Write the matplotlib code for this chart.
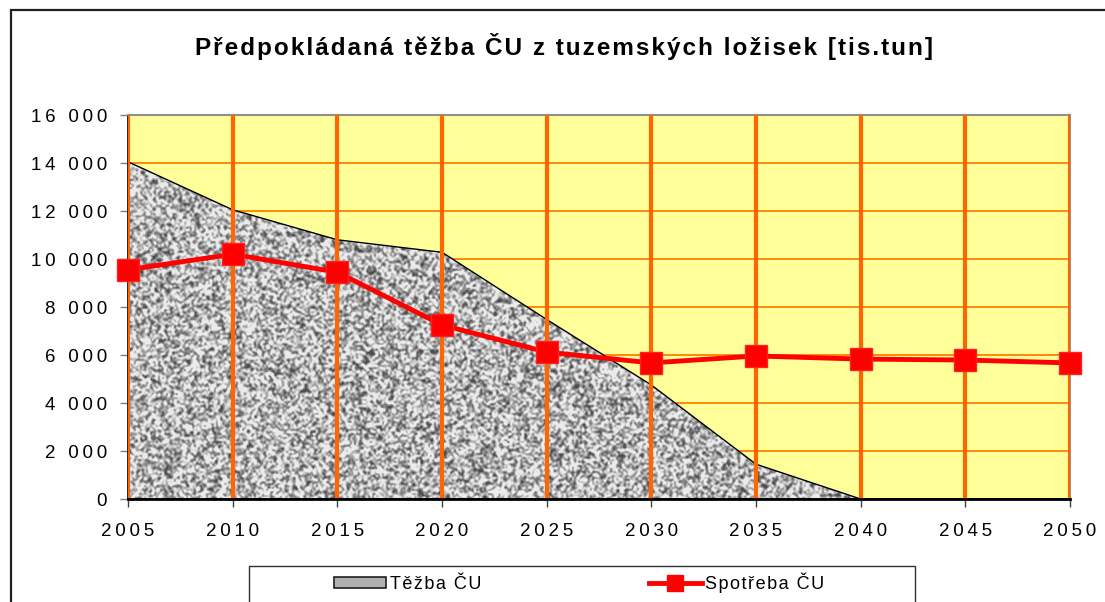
import numpy as np
import matplotlib.pyplot as plt
from matplotlib.patches import Rectangle, Patch
from matplotlib.lines import Line2D

plt.rcParams['font.family'] = ['Liberation Sans', 'DejaVu Sans']

# data
years = [2005, 2010, 2015, 2020, 2025, 2030, 2035, 2040, 2045, 2050]
tezba = [14050, 12050, 10800, 10280, 7480, 4750, 1450, 0, 0, 0]
spotreba = [9550, 10200, 9450, 7250, 6120, 5670, 5960, 5830, 5790, 5670]
y_ticks = [0, 2000, 4000, 6000, 8000, 10000, 12000, 14000, 16000]
y_labels = ["0", "2 000", "4 000", "6 000", "8 000", "10 000", "12 000", "14 000", "16 000"]
x_labels = [str(y) for y in years]
series_names = ["Těžba ČU", "Spotřeba ČU"]
title = "Předpokládaná těžba ČU z tuzemských ložisek [tis.tun]"

THIN = '\u2009'
HAIR = '\u200a'


def spaced(s, sep):
    # old Excel output uses wide letter spacing
    return sep.join(s)


W, H = 1105, 602
fig = plt.figure(figsize=(W / 100, H / 100), dpi=100)
ax = fig.add_axes([128 / W, 1 - 499 / H, (1070 - 128) / W, (499 - 115) / H])
ax.set_facecolor('#FFFF99')
ax.set_xlim(2005, 2050)
ax.set_ylim(0, 16000)

# horizontal grid behind the area
for yv in y_ticks[1:]:
    ax.axhline(yv, color='#FF7F00', lw=1.3, zorder=0.5)

# granite-like texture for the area fill (style only, not data)
rng = np.random.default_rng(7)
noise = rng.random((192, 471))
noise = np.kron(noise, np.ones((2, 2)))
pad = np.pad(noise, 1, mode='wrap')
sm = np.zeros_like(noise)
for dy in range(-1, 2):
    for dx in range(-1, 2):
        sm += pad[1 + dy:1 + dy + noise.shape[0], 1 + dx:1 + dx + noise.shape[1]]
sm /= 9
tex = 0.71 + (sm - sm.mean()) * 1.1
tex = np.clip(tex, 0.3, 0.92)
poly = ax.fill_between(years, tezba, 0, facecolor='none', edgecolor='black', lw=1.0, zorder=2)
im = ax.imshow(tex, cmap='gray', vmin=0, vmax=1, extent=(2005, 2050, 0, 16000),
               aspect='auto', interpolation='bilinear', zorder=1.5)
im.set_clip_path(poly.get_paths()[0], transform=ax.transData)

# vertical grid above the area
for xv in years:
    ax.axvline(xv, color='#FF6600', lw=3, zorder=3)

ax.plot(years, spotreba, color='#FF0000', lw=3.5, marker='s', ms=16,
        mec='#FF2020', mfc='#FF0000', zorder=5, clip_on=False)

ax.set_xticks(years)
ax.set_xticklabels([spaced(s, THIN) for s in x_labels], fontsize=13.5)
ax.set_yticks(y_ticks)
ax.set_yticklabels([spaced(s, THIN) for s in y_labels], fontsize=13.5)
ax.tick_params(axis='y', length=6, width=1, color='#808080', pad=9)
ax.tick_params(axis='x', length=6, width=1, color='#404040', pad=11)

ax.spines['left'].set_color('black')
ax.spines['left'].set_linewidth(1.2)
ax.spines['bottom'].set_color('black')
ax.spines['bottom'].set_linewidth(2)
ax.spines['bottom'].set_zorder(6)
ax.spines['top'].set_color('#909090')
ax.spines['top'].set_linewidth(1.5)
ax.spines['right'].set_color('#909090')
ax.spines['right'].set_linewidth(1.5)

fig.text(564 / W, 1 - 46 / H, spaced(title, HAIR), ha='center', va='center',
         fontsize=17.5, fontweight='bold')

# outer chart frame (cut off at the right and bottom)
fig.add_artist(Rectangle((11 / W, -0.1), 1.2, 1 - 10 / H + 0.1, transform=fig.transFigure,
                         fill=False, edgecolor='#202020', lw=1.6))

# legend box
fig.add_artist(Rectangle((249 / W, -0.1), (915 - 249) / W, 1 - 566 / H + 0.1,
                         transform=fig.transFigure, fill=False, edgecolor='#303030', lw=1.0))
handles = [Patch(facecolor='#b0b0b0', edgecolor='#202020', lw=1.2),
           Line2D([], [], color='#FF0000', lw=3.5, marker='s', ms=11.5)]
fig.legend(handles, [spaced(s, HAIR) for s in series_names], ncol=2, frameon=False,
           loc='center left', bbox_to_anchor=(334 / W, 1 - 583 / H),
           borderaxespad=0, borderpad=0,
           fontsize=13, handlelength=2.9, handleheight=0.55, handletextpad=0.2,
           columnspacing=9.3)

fig.savefig('out.png', dpi=100)
